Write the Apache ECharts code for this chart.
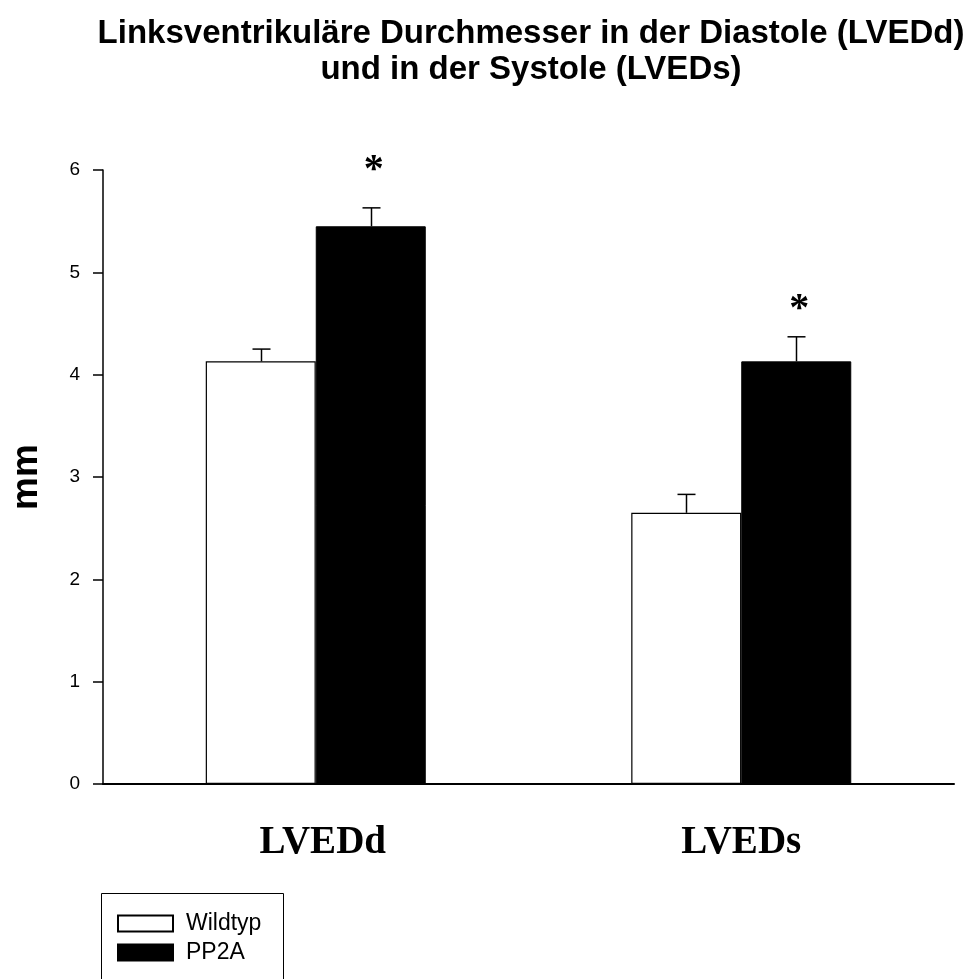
<!DOCTYPE html>
<html>
<head>
<meta charset="utf-8">
<script src="https://cdn.jsdelivr.net/npm/echarts@6/dist/echarts.min.js"></script>
<style>
  html, body { margin: 0; padding: 0; background: #fff; }
  #chart { width: 974px; height: 979px; }
</style>
</head>
<body>
<div id="chart"></div>
<script>
// Left ventricular diameters, mean with upper SEM whisker (mm)
const categories = ['LVEDd', 'LVEDs'];
const seriesNames = ['Wildtyp', 'PP2A'];
const wildtypMean = [4.13, 2.65];
const wildtypErr = [0.12, 0.18];
const pp2aMean = [5.45, 4.13];
const pp2aErr = [0.18, 0.24];
// height of the significance asterisk above each PP2A bar (axis units)
const starLevel = [5.99, 4.64];
const yTicks = [0, 1, 2, 3, 4, 5, 6];

const BAR_W = 110;
const CAP_W = 18;
// small sideways nudge of each category caption (px)
const captionShift = [14, 0];

const chart = echarts.init(document.getElementById('chart'));

// whisker from the top of the bar upward; offset shifts to the bar's center
function whisker(means, errs, offset) {
  return {
    type: 'custom',
    silent: true,
    z: 5,
    data: means.map((m, i) => [i, m, m + errs[i]]),
    renderItem: function (params, api) {
      const base = api.coord([api.value(0), api.value(1)]);
      const top = api.coord([api.value(0), api.value(2)]);
      const x = Math.round(base[0] + offset) + 0.5;
      return {
        type: 'group',
        children: [
          { type: 'line', shape: { x1: x, y1: base[1], x2: x, y2: top[1] },
            style: { stroke: '#000', lineWidth: 1.5 } },
          { type: 'line', shape: { x1: x - CAP_W / 2, y1: top[1], x2: x + CAP_W / 2, y2: top[1] },
            style: { stroke: '#000', lineWidth: 1.5 } }
        ]
      };
    }
  };
}

chart.setOption({
  animation: false,
  backgroundColor: '#fff',
  title: {
    text: 'Linksventrikuläre Durchmesser in der Diastole (LVEDd)\nund in der Systole (LVEDs)',
    left: 531,
    top: 16,
    padding: 0,
    textAlign: 'center',
    textStyle: {
      fontFamily: 'Liberation Sans, Arial, sans-serif',
      fontWeight: 'bold',
      fontSize: 33,
      lineHeight: 36,
      color: '#000'
    }
  },
  legend: {
    orient: 'vertical',
    left: 117,
    top: 912,
    padding: 0,
    icon: 'rect',
    itemWidth: 55,
    itemHeight: 16,
    itemGap: 6,
    selectedMode: false,
    textStyle: {
      fontFamily: 'Liberation Sans, Arial, sans-serif',
      fontSize: 23,
      color: '#000',
      padding: [0, 0, 0, 8]
    },
    data: seriesNames
  },
  // frame around the legend, running off the bottom edge
  graphic: [{
    type: 'rect',
    left: 99,
    top: 891,
    shape: { width: 182, height: 120 },
    style: { fill: 'none', stroke: '#000', lineWidth: 1 },
    silent: true
  }],
  grid: { left: 100, right: 20, top: 170, bottom: 195, containLabel: false },
  xAxis: {
    type: 'category',
    data: categories.map((c, i) => ({
      value: c,
      textStyle: { padding: [0, 0, 0, captionShift[i]] }
    })),
    axisLine: { lineStyle: { color: '#000', width: 2 } },
    axisTick: { alignWithLabel: true, length: 8, lineStyle: { color: '#000', width: 1.5 } },
    axisLabel: {
      margin: 39,
      fontFamily: 'Liberation Serif, Times New Roman, serif',
      fontWeight: 'bold',
      fontSize: 39,
      color: '#000'
    }
  },
  yAxis: {
    type: 'value',
    min: yTicks[0],
    max: yTicks[yTicks.length - 1],
    interval: 1,
    name: 'mm',
    nameLocation: 'middle',
    nameGap: 58,
    nameRotate: 90,
    nameTextStyle: {
      fontFamily: 'Liberation Sans, Arial, sans-serif',
      fontWeight: 'bold',
      fontSize: 37,
      color: '#000'
    },
    axisLine: { show: true, lineStyle: { color: '#000', width: 1.5 } },
    axisTick: { show: true, length: 10, lineStyle: { color: '#000', width: 1.5 } },
    splitLine: { show: false },
    axisLabel: {
      margin: 23,
      fontFamily: 'Liberation Sans, Arial, sans-serif',
      fontSize: 19,
      color: '#000'
    }
  },
  series: [
    {
      name: seriesNames[0],
      type: 'bar',
      barWidth: BAR_W,
      barGap: '0%',
      data: wildtypMean,
      itemStyle: { color: '#fff', borderColor: '#000', borderWidth: 1.2 }
    },
    {
      name: seriesNames[1],
      type: 'bar',
      barWidth: BAR_W,
      barGap: '0%',
      data: pp2aMean,
      itemStyle: { color: '#000', borderColor: '#000', borderWidth: 1 }
    },
    whisker(wildtypMean, wildtypErr, -BAR_W / 2),
    whisker(pp2aMean, pp2aErr, BAR_W / 2),
    {
      type: 'custom',
      silent: true,
      z: 6,
      data: starLevel.map((v, i) => [i, v]),
      renderItem: function (params, api) {
        const p = api.coord([api.value(0), api.value(1)]);
        return {
          type: 'text',
          x: p[0] + BAR_W / 2 + 3,
          y: p[1],
          style: {
            text: '*',
            fontFamily: 'Liberation Serif, Times New Roman, serif',
            fontWeight: 'bold',
            fontSize: 40,
            fill: '#000',
            align: 'center',
            verticalAlign: 'middle'
          }
        };
      }
    }
  ]
});
</script>
</body>
</html>
